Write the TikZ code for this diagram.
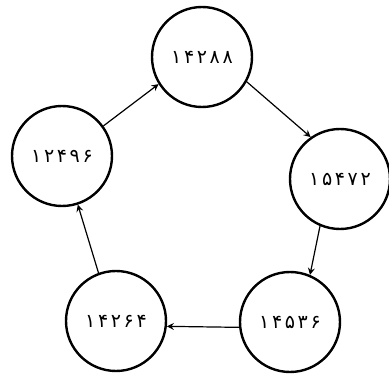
\documentclass[tikz,border=0pt]{standalone}
\usepackage{fontspec}
\newfontfamily\fafont[Script=Arabic,LetterSpace=14]{DejaVu Sans}
\usetikzlibrary{arrows.meta}
\begin{document}
\begin{tikzpicture}[x=1pt,y=-1pt,
  numcirc/.style={circle,draw=black,line width=2.4pt,minimum size=100pt,inner sep=0pt,font=\fafont\fontsize{19}{19}\selectfont},
  link/.style={-{Stealth[length=7pt,width=7pt,inset=2.5pt]},line width=1.2pt}]
\useasboundingbox (0,0) rectangle (389,377);
\node[numcirc] (a) at (202,57) {۱۴۲۸۸};
\node[numcirc] (b) at (340,179) {۱۵۴۷۲};
\node[numcirc] (c) at (290,322) {۱۴۵۳۶};
\node[numcirc] (d) at (116,321) {۱۴۲۶۴};
\node[numcirc] (e) at (62,156) {۱۲۴۹۶};
\draw[link] (a.-29) -- (b.125);
\draw[link] (b.-113) -- (c.67);
\draw[link] (c.186) -- (d.-6);
\draw[link] (d.110) -- (e.-72);
\draw[link] (e.36) -- (a.-148);
\end{tikzpicture}
\end{document}
